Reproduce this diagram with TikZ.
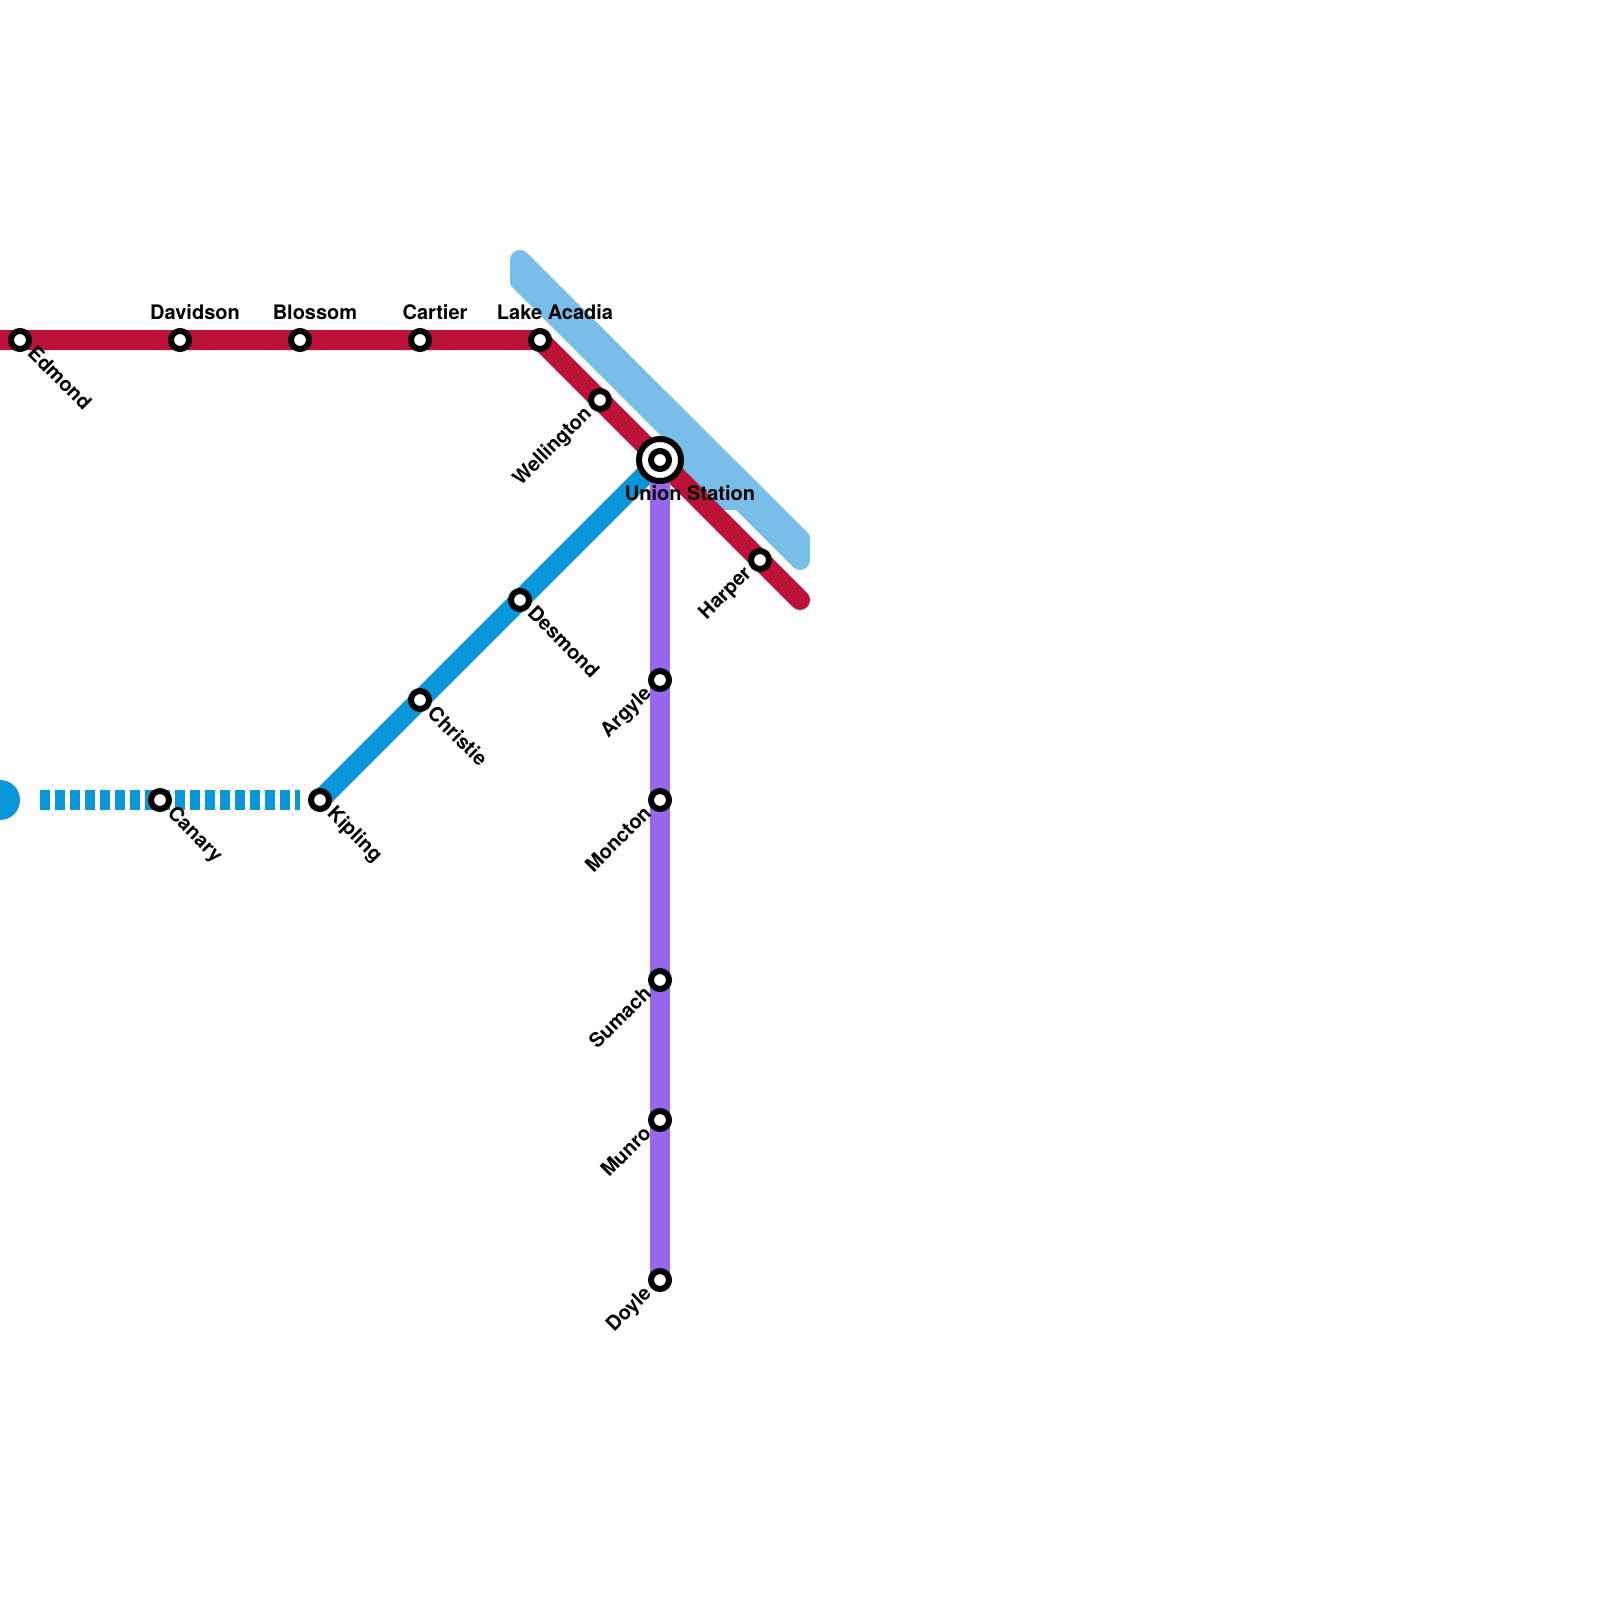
\documentclass[tikz,border=0pt]{standalone}
\usepackage{fontspec}
\setmainfont{TeX Gyre Heros}
\tikzset{
 x=1pt,y=-1pt,
 line/.style={line width=20pt},
 stn/.style={circle,draw=black,fill=white,line width=6pt,minimum size=18pt,inner sep=0pt,outer sep=0pt},
 lbl/.style={inner sep=0pt,font=\fontsize{20}{20}\bfseries\selectfont,text=black},
 lt/.style={lbl,anchor=base},
 lse/.style={lbl,anchor=north west,rotate=-45},
 lsw/.style={lbl,anchor=north east,rotate=45},
}
\definecolor{crimson}{HTML}{BC1238}
\definecolor{skyb}{HTML}{0A97D9}
\definecolor{purp}{HTML}{9768EC}
\definecolor{pale}{HTML}{79BDE9}
\begin{document}
\begin{tikzpicture}
\useasboundingbox (0,0) rectangle (1600,1600);
\clip (0,0) rectangle (1600,1600);
\fill[pale] (520,250) .. controls (524,250) and (526,252) .. (528,254) -- (807,532) .. controls (809,534) and (810,535) .. (810,538) -- (810,560) .. controls (810,566) and (805,570) .. (800,570) .. controls (797,570) and (795,569) .. (793,567) -- (736,510) -- (720,510) .. controls (716,510) and (714,509) .. (712,507) -- (672,467) -- (668,443) -- (513,288) .. controls (511,286) and (510,285) .. (510,282) -- (510,260) .. controls (510,254) and (515,250) .. (520,250) -- cycle;
\coordinate (e0) at (0,340);
\coordinate (rend) at (800,600);
\coordinate (bl0) at (40,800);
\coordinate (blend) at (300,800);
\coordinate (bigdot) at (0,800);
\coordinate (union) at (660,460);
\coordinate (edmond) at (20,340);
\coordinate (davidson) at (180,340);
\coordinate (blossom) at (300,340);
\coordinate (cartier) at (420,340);
\coordinate (lake) at (540,340);
\coordinate (well) at (600,400);
\coordinate (harper) at (760,560);
\coordinate (canary) at (160,800);
\coordinate (kipling) at (320,800);
\coordinate (christie) at (420,700);
\coordinate (desmond) at (520,600);
\coordinate (argyle) at (660,680);
\coordinate (moncton) at (660,800);
\coordinate (sumach) at (660,980);
\coordinate (munro) at (660,1120);
\coordinate (doyle) at (660,1280);
\draw[line,crimson,line cap=round,line join=round] (e0) -- (lake) -- (well) -- (union) -- (harper) -- (rend);
\draw[line,skyb] (kipling) -- (christie) -- (desmond) -- (union);
\draw[line,purp] (union) -- (argyle) -- (moncton) -- (sumach) -- (munro) -- (doyle);
\draw[line,skyb,dash pattern=on 10pt off 5pt] (bl0) -- (blend);
\fill[skyb] (bigdot) circle (20);
\foreach \s in {edmond,davidson,blossom,cartier,lake,well,harper,canary,kipling,christie,desmond,argyle,moncton,sumach,munro,doyle}
  \node[stn] (n\s) at (\s) {};
\node[circle,draw=black,fill=white,line width=6pt,minimum size=42pt,inner sep=0pt] (unionOuter) at (union) {};
\node[stn] (unionInner) at (union) {};
\node[lt] (tdavidson) at (195,319.5) {Davidson};
\node[lt] (tblossom) at (315,319.5) {Blossom};
\node[lt] (tcartier) at (435,319.5) {Cartier};
\node[lt] (tlake) at (555,319.5) {Lake Acadia};
\node[lt] (tunion) at (690,500) {Union Station};
\node[lse] (tedmond) at (37,344) {Edmond};
\node[lse] (tcanary) at (177,804) {Canary};
\node[lse] (tkipling) at (337,804) {Kipling};
\node[lse] (tchristie) at (437,704) {Christie};
\node[lse] (tdesmond) at (537,604) {Desmond};
\node[lsw] (twell) at (582,404) {Wellington};
\node[lsw] (tharper) at (742,564) {Harper};
\node[lsw] (targyle) at (642,684) {Argyle};
\node[lsw] (tmoncton) at (642,804) {Moncton};
\node[lsw] (tsumach) at (642,984) {Sumach};
\node[lsw] (tmunro) at (642,1124) {Munro};
\node[lsw] (tdoyle) at (642,1284) {Doyle};
\end{tikzpicture}
\end{document}
